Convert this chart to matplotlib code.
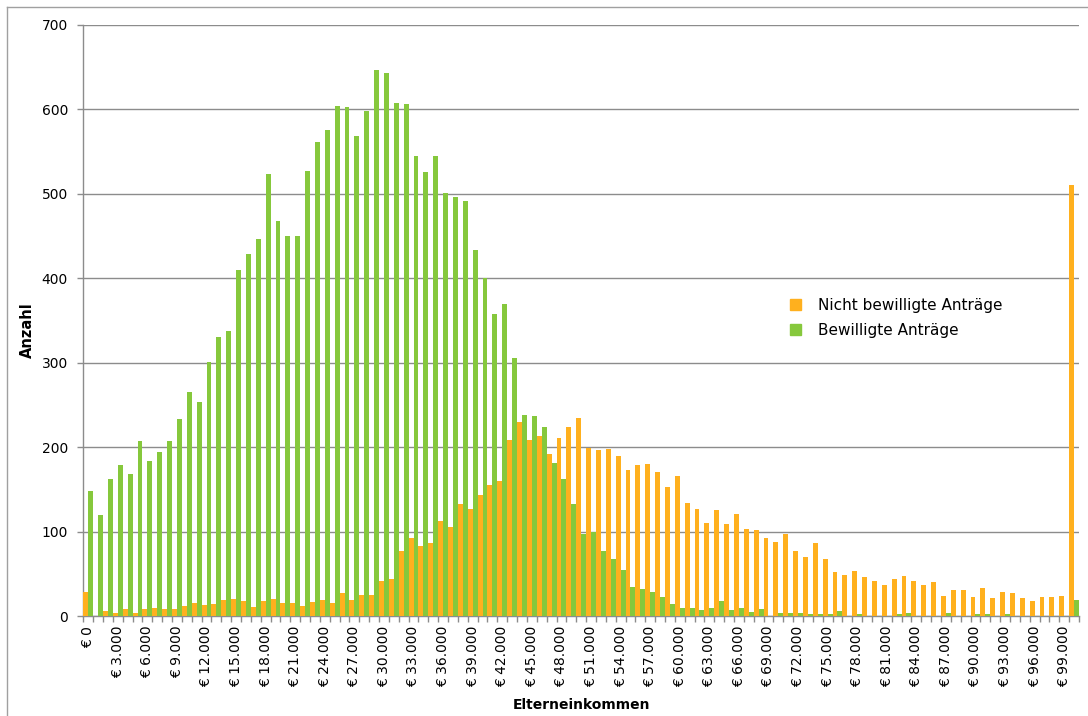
import matplotlib
matplotlib.use("Agg")
import matplotlib.pyplot as plt
import numpy as np
from matplotlib.lines import Line2D
from matplotlib.patches import Patch

# Einkommensklassen in 1.000er-Schritten: € 0 … € 99.000 plus eine letzte Klasse (ab € 100.000)
incomes = list(range(0, 101000, 1000))
labels = ["€ 0" if v == 0 else "€ " + f"{v:,}".replace(",", ".") for v in incomes]

nicht_bewilligt = [29, 0, 6, 4, 8, 4, 8, 9, 8, 8,
                   12, 15, 13, 14, 19, 20, 18, 11, 18, 20,
                   15, 15, 12, 16, 19, 15, 27, 19, 25, 25,
                   42, 44, 77, 92, 83, 87, 113, 105, 133, 127,
                   143, 155, 160, 209, 230, 209, 213, 192, 211, 224,
                   234, 199, 197, 198, 190, 173, 179, 180, 171, 153,
                   166, 134, 127, 110, 125, 109, 121, 103, 102, 92,
                   88, 97, 77, 70, 86, 67, 52, 48, 53, 46,
                   42, 37, 44, 47, 42, 37, 40, 24, 31, 31,
                   22, 33, 21, 28, 27, 21, 18, 23, 23, 24,
                   510]
bewilligt = [148, 120, 162, 179, 168, 207, 183, 194, 207, 233,
             265, 253, 301, 330, 338, 410, 429, 447, 523, 468,
             450, 450, 527, 561, 576, 604, 603, 568, 598, 647,
             643, 608, 607, 545, 526, 545, 501, 496, 492, 433,
             400, 358, 370, 305, 238, 237, 224, 181, 162, 133,
             97, 99, 77, 68, 55, 34, 32, 28, 23, 14,
             10, 9, 7, 9, 18, 7, 9, 5, 8, 0,
             3, 3, 3, 2, 2, 2, 6, 0, 2, 0,
             0, 0, 2, 4, 0, 0, 0, 3, 0, 0,
             2, 2, 0, 2, 0, 0, 0, 0, 0, 0,
             19]
series_names = ["Nicht bewilligte Anträge", "Bewilligte Anträge"]

ORANGE = "#FFB01E"
GREEN = "#86C83C"
GRID = "#8C8C8C"

W, H = 1088, 716
fig = plt.figure(figsize=(W / 100, H / 100), dpi=100)
ax = fig.add_axes([83.3 / W, 1 - 616 / H, (1079 - 83.3) / W, (616 - 25) / H])

x = np.arange(len(incomes))
ax.bar(x - 0.25, nicht_bewilligt, width=0.5, color=ORANGE, linewidth=0, zorder=3)
ax.bar(x + 0.25, bewilligt, width=0.5, color=GREEN, linewidth=0, zorder=3)

ax.set_xlim(-0.5, len(incomes) - 0.5)
ax.set_ylim(0, 700)
ax.set_yticks(range(0, 701, 100))
ax.yaxis.grid(True, color=GRID, lw=1.0, zorder=0)
ax.set_axisbelow(True)

# Beschriftung nur jede dritte Klasse (bis € 99.000), Striche an jeder Klassengrenze
major = [i for i in range(0, len(incomes), 3) if incomes[i] <= 99000]
ax.set_xticks(major)
ax.set_xticklabels([labels[i] for i in major], rotation=90, fontsize=10,
                   family="DejaVu Sans", va="top")
ax.set_xticks(np.arange(-0.5, len(incomes)), minor=True)
ax.tick_params(axis="x", which="major", length=0, pad=7)
ax.tick_params(axis="x", which="minor", length=4, color=GRID, width=1)
ax.tick_params(axis="y", length=4, color=GRID, width=1, labelsize=10, pad=7)

for s in ["top", "right"]:
    ax.spines[s].set_visible(False)
for s in ["left", "bottom"]:
    ax.spines[s].set_color(GRID)
    ax.spines[s].set_linewidth(1.0)

fig.text(27 / W, 1 - 330 / H, "Anzahl", rotation=90, ha="center", va="center",
         fontsize=10.5, fontweight="bold")
fig.text(581 / W, 1 - 705 / H, "Elterneinkommen", ha="center", va="center",
         fontsize=10, fontweight="bold")

handles = [Patch(color=ORANGE), Patch(color=GREEN)]
fig.legend(handles, series_names, loc="center left",
           bbox_to_anchor=(790 / W, 1 - 318 / H), frameon=False, fontsize=11,
           handlelength=0.7, handleheight=0.7, handletextpad=1.1,
           labelspacing=0.65, borderpad=0, borderaxespad=0)

# Rahmen des Diagrammbereichs
fig.add_artist(Line2D([7 / W, 1], [1 - 7 / H, 1 - 7 / H], color="#A0A0A0", lw=1))
fig.add_artist(Line2D([7 / W, 7 / W], [0, 1 - 7 / H], color="#A0A0A0", lw=1))

fig.savefig("out.png", dpi=100)
